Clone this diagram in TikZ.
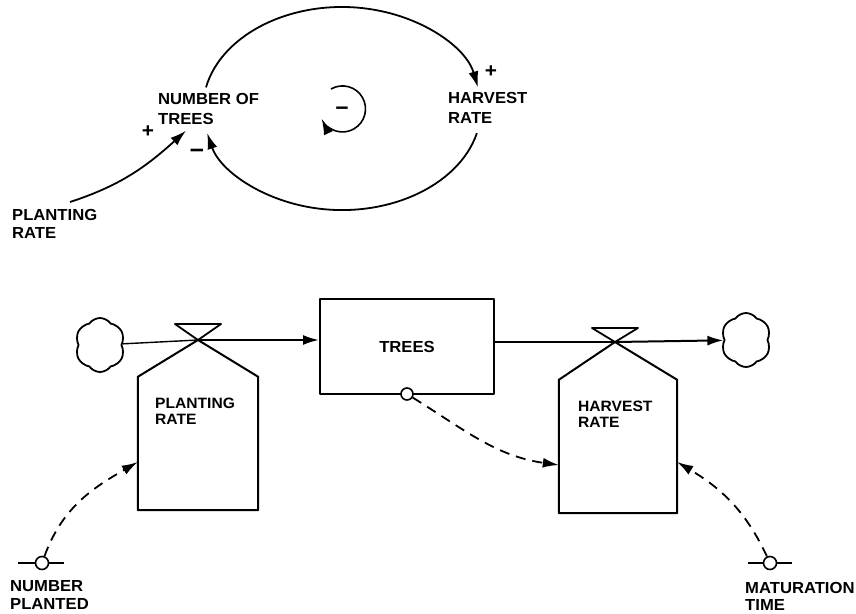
\documentclass[tikz,border=0pt]{standalone}
\usepackage{fontspec}
\setmainfont[FakeStretch=1.04]{Liberation Sans}
\usetikzlibrary{arrows.meta,positioning,shapes.symbols}

\begin{document}
\begin{tikzpicture}[x=1pt, y=-1pt, line join=round,
  lbl/.style={anchor=north west, inner sep=0pt, align=left, font=\bfseries\fontsize{16}{20}\selectfont},
  stockbox/.style={draw, line width=2pt, minimum width=174pt, minimum height=95pt,
    font=\bfseries\fontsize{16}{20}\selectfont},
  ratebody/.style={minimum width=#1, minimum height=133pt, inner sep=0pt},
  cloudsrc/.style={draw, cloud, cloud puffs=6, cloud puff arc=110, aspect=0.9,
    minimum width=50pt, minimum height=54pt, line width=1.8pt},
  auxcirc/.style={draw, circle, fill=white, minimum size=13pt, inner sep=0pt, line width=1.6pt},
  flowline/.style={line width=2pt, -{Latex[length=16pt,width=10pt]}},
  infolink/.style={line width=1.8pt, dash pattern=on 10pt off 7pt, -{Latex[length=16pt,width=10pt]}},
  link/.style={line width=1.8pt, -{Latex[length=16pt,width=10pt]}},
  sign/.style={inner sep=0pt, font=\bfseries\fontsize{20}{20}\selectfont}]

\useasboundingbox (0,0) rectangle (856,613);

% causal loop
\node[lbl] (ntlbl) at (158,93) {NUMBER OF\\TREES};
\node[lbl] (hrlbl) at (448,92) {HARVEST\\RATE};
\node[lbl, font=\bfseries\fontsize{16}{18}\selectfont] (prlbl) at (12,209) {PLANTING\\RATE};

\coordinate (lpa) at (206,87.4);
\coordinate (lpb) at (476.9,133.1);
\draw[link] (lpa) arc[start angle=168, end angle=12, x radius=139pt, y radius=101.5pt];
\draw[link] (lpb) arc[start angle=-14, end angle=-166, x radius=139pt, y radius=101.5pt];

\coordinate (sl) at (331,89);
\draw[link, line width=1.6pt] (sl) arc[start angle=120, end angle=-155, radius=23pt];

\draw[link] ([shift={(58pt,7pt)}]prlbl.north west) to[out=18, in=-138]
  ([shift={(28pt,-6pt)}]ntlbl.south west);

\node[sign] (plush) at (491,72) {+};
\node[sign] (pluss) at (148,132) {+};
\node[sign, font=\bfseries\fontsize{24}{24}\selectfont] (minusn) at (197,154) {−};
\node[sign, font=\bfseries\fontsize{22}{22}\selectfont] (minusl) at (342,111) {−};

% stock and flow
\node[stockbox] (trees) at (407,346.5) {TREES};
\node[cloudsrc] (src) at (100,345) {};
\node[cloudsrc] (sink) at (746,340) {};

\coordinate (pvalve) at (198,340);
\coordinate (hvalve) at (615,342);

\node[ratebody=120pt] (plantbody) at (198,443.5) {};
\node[ratebody=118pt] (harvbody) at (618,446.5) {};

\draw[line width=2pt] (pvalve) -- (plantbody.north west) -- (plantbody.south west)
  -- (plantbody.south east) -- (plantbody.north east) -- cycle;
\draw[line width=2pt] (hvalve) -- (harvbody.north west) -- (harvbody.south west)
  -- (harvbody.south east) -- (harvbody.north east) -- cycle;
\draw[line width=1.8pt] (pvalve) -- ++(-23,-16) -- ++(46,0) -- cycle;
\draw[line width=1.8pt] (hvalve) -- ++(-23,-14) -- ++(46,0) -- cycle;

\draw[line width=1.4pt] (src) -- (pvalve);
\draw[flowline] (pvalve) -- (pvalve -| trees.west);
\draw[line width=2pt] (trees.east |- hvalve) -- (hvalve);
\draw[flowline] (hvalve) -- (sink);

\node[lbl, font=\bfseries\fontsize{15}{16}\selectfont] (plantlbl) at (155,398) {PLANTING\\RATE};
\node[lbl, font=\bfseries\fontsize{15}{16}\selectfont] (harvlbl) at (578,401) {HARVEST\\RATE};

% auxiliaries
\node[auxcirc, minimum size=12pt] (tc) at (407,394) {};
\node[auxcirc] (np) at (42,563) {};
\node[auxcirc] (mt) at (770,563) {};
\draw[line width=1.6pt] ([xshift=-24pt]np.center) -- (np.west);
\draw[line width=1.6pt] (np.east) -- ([xshift=22pt]np.center);
\draw[line width=1.6pt] ([xshift=-22pt]mt.center) -- (mt.west);
\draw[line width=1.6pt] (mt.east) -- ([xshift=22pt]mt.center);

\node[lbl, font=\bfseries\fontsize{16}{18}\selectfont] (nplbl) at (10,580) {NUMBER\\PLANTED};
\node[lbl, font=\bfseries\fontsize{16}{17}\selectfont] (mtlbl) at (745,582) {MATURATION\\TIME};

\draw[infolink] (tc) to[out=-32, in=172] ([yshift=-18.5pt]harvbody.west);
\draw[infolink] (np) to[out=70, in=-150] ([yshift=-18.5pt]plantbody.west);
\draw[infolink] (mt) to[out=115, in=-31] ([yshift=-15.5pt]harvbody.east);

\end{tikzpicture}
\end{document}
